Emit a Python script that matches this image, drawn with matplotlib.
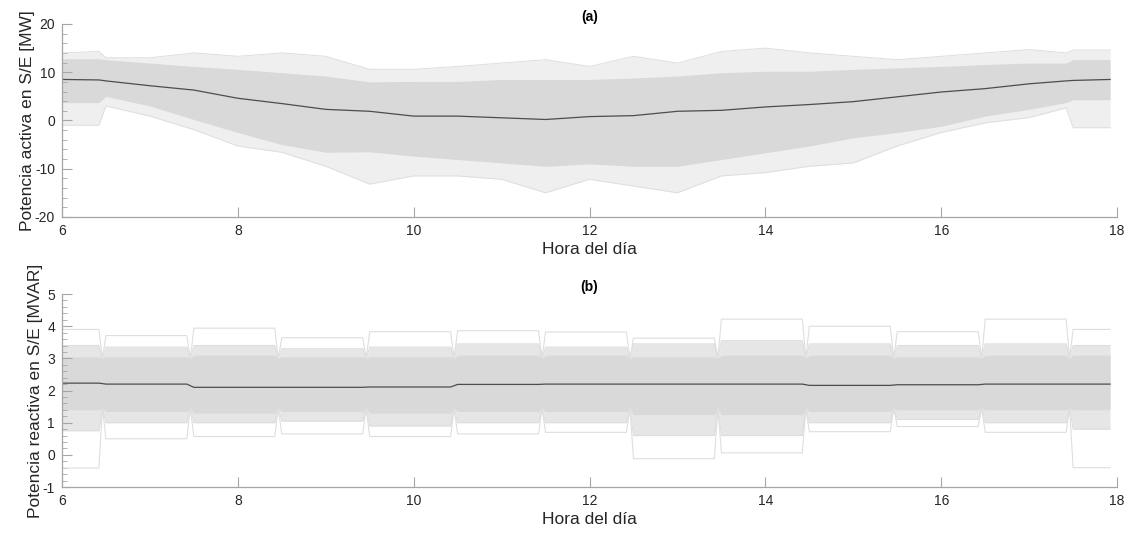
import numpy as np
import matplotlib
matplotlib.use('Agg')
import matplotlib.pyplot as plt
import matplotlib.ticker as tkr

plt.rcParams['font.family'] = ['Liberation Sans', 'DejaVu Sans']
plt.rcParams['axes.unicode_minus'] = False

# ---- (a) potencia activa, envolventes ----
hora_a = [6.0, 6.42, 6.5, 7.0, 7.5, 8.0, 8.5, 9.0, 9.5, 10.0, 10.5, 11.0, 11.5,
          12.0, 12.5, 13.0, 13.5, 14.0, 14.5, 15.0, 15.5, 16.0, 16.5, 17.0,
          17.42, 17.5, 17.92]
p_core_top = [12.8, 12.8, 12.6, 11.9, 11.2, 10.6, 9.9, 9.2, 8.0, 8.1, 8.1, 8.5, 8.5,
              8.5, 8.8, 9.2, 9.9, 10.2, 10.2, 10.6, 10.9, 11.2, 11.6, 11.9,
              11.9, 12.6, 12.6]
p_core_bot = [3.7, 3.7, 5.0, 3.0, 0.2, -2.5, -5.0, -6.6, -6.5, -7.4, -8.1, -8.8, -9.5,
              -9.0, -9.5, -9.5, -8.1, -6.7, -5.3, -3.6, -2.5, -1.2, 0.9, 2.3,
              3.7, 4.3, 4.3]
p_out_top = [14.0, 14.3, 13.0, 13.0, 14.0, 13.3, 14.0, 13.3, 10.6, 10.6, 11.2, 11.9, 12.6,
             11.2, 13.3, 11.9, 14.3, 15.0, 14.0, 13.3, 12.6, 13.3, 14.0, 14.7,
             14.0, 14.6, 14.6]
p_out_bot = [-1.0, -1.0, 3.0, 0.9, -1.9, -5.3, -6.6, -9.5, -13.2, -11.5, -11.5, -12.2, -15.0,
             -12.2, -13.6, -15.0, -11.5, -10.8, -9.5, -8.8, -5.3, -2.5, -0.5, 0.6,
             2.6, -1.5, -1.5]
p_media = [8.5, 8.4, 8.2, 7.2, 6.3, 4.6, 3.5, 2.3, 1.9, 0.9, 0.9, 0.55, 0.2,
           0.8, 1.0, 1.9, 2.1, 2.8, 3.3, 3.9, 4.9, 5.9, 6.6, 7.6,
           8.2, 8.3, 8.5]

# ---- (b) potencia reactiva, bloques horarios ----
q_ini = [6.0, 6.5, 7.5, 8.5, 9.5, 10.5, 11.5, 12.5, 13.5, 14.5, 15.5, 16.5, 17.5]
q_fin = [6.42, 7.42, 8.42, 9.42, 10.42, 11.42, 12.42, 13.42, 14.42, 15.42, 16.42, 17.42, 17.92]
q_out_top = [3.90, 3.71, 3.94, 3.64, 3.83, 3.86, 3.82, 3.63, 4.22, 4.00, 3.83, 4.22, 3.90]
q_mid_top = [3.40, 3.35, 3.40, 3.30, 3.35, 3.45, 3.35, 3.45, 3.55, 3.45, 3.40, 3.45, 3.40]
q_core_top = [3.05, 3.05, 3.10, 3.05, 3.05, 3.10, 3.10, 3.05, 3.10, 3.10, 3.05, 3.10, 3.10]
q_core_bot = [1.40, 1.35, 1.30, 1.35, 1.30, 1.35, 1.35, 1.25, 1.25, 1.35, 1.40, 1.40, 1.40]
q_mid_bot = [0.75, 1.00, 1.00, 1.05, 0.90, 1.00, 1.00, 0.60, 0.60, 1.00, 1.10, 1.00, 0.80]
q_out_bot = [-0.41, 0.50, 0.57, 0.65, 0.57, 0.65, 0.70, -0.12, 0.06, 0.72, 0.88, 0.70, -0.40]
q_media = [2.23, 2.20, 2.10, 2.10, 2.11, 2.19, 2.20, 2.20, 2.20, 2.16, 2.18, 2.20, 2.20]
q_gap_top = 3.0
q_gap_bot = 1.45

gris = '#d9d9d9'
gris_claro = '#e6e6e6'
linea = '#dedede'
media_col = '#4d4d4d'
eje_col = '#a6a6a6'
txt_col = '#262626'


def bloques(vals, gap=None):
    xs, ys = [], []
    for i in range(len(q_ini)):
        xs += [q_ini[i], q_fin[i]]
        ys += [vals[i], vals[i]]
        if gap is not None and i < len(q_ini) - 1:
            xs.append(q_fin[i] + 0.04)
            ys.append(gap)
    return np.array(xs), np.array(ys)


def estilo(ax, ymin, ymax, ystep, yminor):
    ax.set_xlim(6, 18)
    ax.set_ylim(ymin, ymax)
    ax.set_xticks(np.arange(6, 19, 2))
    ax.set_yticks(np.arange(ymin, ymax + ystep / 2, ystep))
    ax.yaxis.set_minor_locator(tkr.MultipleLocator(yminor))
    for s in ['top', 'right']:
        ax.spines[s].set_visible(False)
    for s in ['left', 'bottom']:
        ax.spines[s].set_color(eje_col)
        ax.spines[s].set_linewidth(0.9)
    ax.tick_params(which='major', direction='in', length=7, width=0.8,
                   color=eje_col, labelcolor=txt_col, labelsize=10, pad=5)
    ax.tick_params(which='minor', direction='in', length=3.5, width=0.6,
                   color=eje_col)
    ax.set_xlabel('Hora del día', fontsize=12.5, color=txt_col, labelpad=3)


fig = plt.figure(figsize=(11.37, 5.33), dpi=100)
ax1 = fig.add_axes([0.0545, 0.593, 0.928, 0.362])
ax2 = fig.add_axes([0.0545, 0.0863, 0.928, 0.362])

# (a)
ax1.fill_between(hora_a, p_out_bot, p_out_top, color='#efefef', lw=0)
ax1.fill_between(hora_a, p_core_bot, p_core_top, color=gris, lw=0)
ax1.plot(hora_a, p_out_top, color=linea, lw=0.7)
ax1.plot(hora_a, p_out_bot, color=linea, lw=0.7)
ax1.plot(hora_a, p_media, color=media_col, lw=0.9)
estilo(ax1, -20, 20, 10, 2)
ax1.set_ylabel('Potencia activa en S/E [MW]', fontsize=12.5, color=txt_col, labelpad=0)
ax1.set_title('(a)', fontsize=10, fontweight='bold', color='black', pad=2)

# (b)
x_ot, y_ot = bloques(q_out_top, q_gap_top)
x_mt, y_mt = bloques(q_mid_top, q_gap_top)
x_ct, y_ct = bloques(q_core_top, q_gap_top)
x_cb, y_cb = bloques(q_core_bot, q_gap_bot)
x_mb, y_mb = bloques(q_mid_bot, q_gap_bot)
x_ob, y_ob = bloques(q_out_bot, q_gap_bot)
x_me, y_me = bloques(q_media)

ax2.fill_between(x_mt, y_mb, y_mt, color=gris_claro, lw=0)
ax2.fill_between(x_ct, y_cb, y_ct, color=gris, lw=0)
for xs, ys in [(x_ot, y_ot), (x_mt, y_mt), (x_mb, y_mb), (x_ob, y_ob)]:
    ax2.plot(xs, ys, color=linea, lw=0.8)
ax2.plot(x_me, y_me, color=media_col, lw=0.9)
estilo(ax2, -1, 5, 1, 0.2)
ax2.set_ylabel('Potencia reactiva en S/E [MVAR]', fontsize=12.5, color=txt_col, labelpad=0)
ax2.set_title('(b)', fontsize=10, fontweight='bold', color='black', pad=2)

fig.savefig('out.png', dpi=100)
